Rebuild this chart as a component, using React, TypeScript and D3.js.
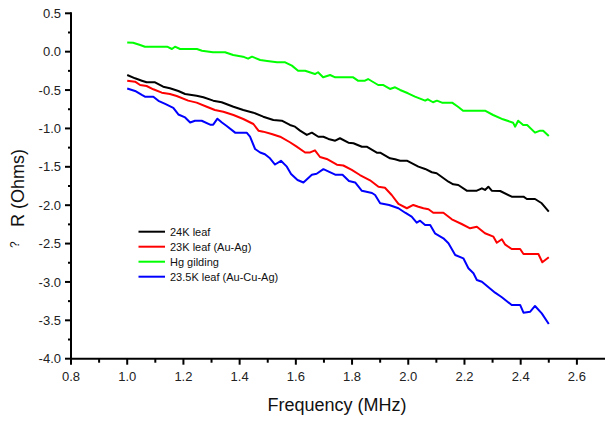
import React from "react";
import * as d3 from "d3";

// ---- data (frequency in MHz, ΔR in Ohms) ----
const leaf24Freq = [1.0,1.028,1.052,1.069,1.099,1.128,1.152,1.182,1.206,1.247,1.271,1.306,1.336,1.378,1.413,1.449,1.484,1.52,1.55,1.579,1.597,1.615,1.639,1.657,1.68,1.698,1.716,1.74,1.757,1.787,1.805,1.835,1.852,1.888,1.9,1.935,1.953,1.971,1.995,2.036,2.06,2.084,2.101,2.143,2.16,2.178,2.208,2.244,2.262,2.273,2.285,2.297,2.327,2.368,2.41,2.422,2.451,2.475,2.5];
const leaf24Vals = [-0.304,-0.347,-0.378,-0.399,-0.399,-0.456,-0.477,-0.512,-0.551,-0.573,-0.594,-0.638,-0.659,-0.717,-0.76,-0.795,-0.847,-0.89,-0.899,-0.955,-0.977,-1.029,-1.085,-1.055,-1.108,-1.108,-1.137,-1.16,-1.128,-1.186,-1.193,-1.238,-1.238,-1.316,-1.316,-1.389,-1.402,-1.42,-1.42,-1.498,-1.528,-1.571,-1.584,-1.694,-1.728,-1.737,-1.811,-1.811,-1.78,-1.802,-1.759,-1.811,-1.815,-1.889,-1.889,-1.919,-1.919,-1.975,-2.085];

const leaf23Freq = [1.0,1.028,1.046,1.069,1.093,1.123,1.152,1.176,1.217,1.247,1.283,1.312,1.342,1.378,1.413,1.449,1.467,1.484,1.514,1.544,1.579,1.603,1.633,1.651,1.668,1.686,1.71,1.746,1.769,1.799,1.828,1.864,1.894,1.917,1.941,1.965,1.995,2.018,2.036,2.054,2.072,2.089,2.125,2.155,2.19,2.22,2.244,2.273,2.303,2.315,2.333,2.344,2.368,2.398,2.41,2.463,2.477,2.5];
const leaf23Vals = [-0.378,-0.391,-0.434,-0.447,-0.49,-0.534,-0.551,-0.577,-0.638,-0.664,-0.717,-0.76,-0.782,-0.825,-0.877,-0.942,-1.029,-1.042,-1.072,-1.108,-1.18,-1.238,-1.313,-1.313,-1.285,-1.372,-1.398,-1.472,-1.483,-1.541,-1.607,-1.676,-1.759,-1.773,-1.867,-1.984,-2.04,-1.997,-2.02,-2.04,-2.053,-2.098,-2.098,-2.184,-2.245,-2.301,-2.28,-2.366,-2.41,-2.489,-2.444,-2.51,-2.571,-2.571,-2.636,-2.636,-2.744,-2.679];

const hgFreq = [1.0,1.021,1.046,1.063,1.142,1.159,1.17,1.188,1.248,1.266,1.305,1.348,1.377,1.412,1.43,1.444,1.473,1.498,1.533,1.562,1.586,1.608,1.633,1.668,1.679,1.697,1.722,1.74,1.804,1.821,1.846,1.857,1.893,1.91,1.935,1.953,1.971,1.999,2.024,2.06,2.07,2.088,2.102,2.12,2.156,2.177,2.195,2.273,2.302,2.337,2.373,2.38,2.391,2.409,2.423,2.451,2.469,2.48,2.5];
const hgVals = [0.12,0.117,0.087,0.065,0.065,0.035,0.065,0.035,0.035,0.013,-0.008,-0.008,-0.043,-0.065,-0.091,-0.065,-0.108,-0.121,-0.138,-0.138,-0.182,-0.248,-0.248,-0.291,-0.268,-0.334,-0.304,-0.334,-0.334,-0.378,-0.378,-0.356,-0.434,-0.434,-0.486,-0.464,-0.499,-0.542,-0.586,-0.638,-0.62,-0.659,-0.638,-0.664,-0.664,-0.717,-0.769,-0.769,-0.825,-0.881,-0.925,-0.977,-0.899,-0.955,-0.955,-1.055,-1.029,-1.029,-1.098];

const leaf235Freq = [1.0,1.028,1.052,1.063,1.093,1.111,1.135,1.164,1.182,1.206,1.224,1.241,1.265,1.295,1.306,1.321,1.337,1.354,1.384,1.425,1.437,1.455,1.473,1.49,1.508,1.526,1.547,1.568,1.583,1.606,1.627,1.657,1.674,1.698,1.74,1.766,1.789,1.811,1.835,1.871,1.882,1.9,1.932,1.965,1.989,2.012,2.03,2.042,2.06,2.078,2.095,2.125,2.143,2.167,2.196,2.214,2.232,2.244,2.262,2.309,2.333,2.368,2.398,2.41,2.434,2.451,2.475,2.5];
const leaf235Vals = [-0.479,-0.512,-0.564,-0.586,-0.586,-0.64,-0.681,-0.731,-0.818,-0.857,-0.922,-0.9,-0.9,-0.951,-0.951,-0.873,-0.922,-0.968,-1.055,-1.055,-1.108,-1.268,-1.313,-1.336,-1.389,-1.47,-1.422,-1.498,-1.594,-1.672,-1.704,-1.603,-1.59,-1.531,-1.603,-1.603,-1.685,-1.704,-1.812,-1.841,-1.867,-1.975,-1.997,-2.04,-2.098,-2.15,-2.228,-2.202,-2.258,-2.258,-2.366,-2.431,-2.496,-2.649,-2.692,-2.822,-2.887,-2.975,-2.997,-3.14,-3.2,-3.3,-3.3,-3.401,-3.388,-3.313,-3.409,-3.548];

const seriesNames = ["24K leaf", "23K leaf (Au-Ag)", "Hg gilding", "23.5K leaf (Au-Cu-Ag)"];
const seriesColors = ["#000000", "#ff0000", "#00ff00", "#0000ff"];
const seriesFreqs = [leaf24Freq, leaf23Freq, hgFreq, leaf235Freq];
const seriesVals = [leaf24Vals, leaf23Vals, hgVals, leaf235Vals];

const xTicks = [0.8, 1.0, 1.2, 1.4, 1.6, 1.8, 2.0, 2.2, 2.4, 2.6];
const yTicks = [0.5, 0.0, -0.5, -1.0, -1.5, -2.0, -2.5, -3.0, -3.5, -4.0];
const xLabel = "Frequency (MHz)";
const yLabel = "R (Ohms)";

const W = 605;
const H = 422;
const FONT = "Arial, 'Liberation Sans', Helvetica, sans-serif";

export default function App() {
  const x = d3.scaleLinear().domain([0.8, 2.7]).range([71, 605]);
  const y = d3.scaleLinear().domain([-4.0, 0.5]).range([358.7, 13.3]);

  const line = d3
    .line<[number, number]>()
    .x((d) => x(d[0]))
    .y((d) => y(d[1]));

  const xMinor = d3.range(0.9, 2.7, 0.2);
  const yMinor = d3.range(-3.75, 0.5, 0.5);

  const x0 = x(0.8);
  const yBase = y(-4.0);

  return (
    <svg
      width={W}
      height={H}
      style={{ position: "absolute", left: 0, top: 0, background: "#fff" }}
      fontFamily={FONT}
    >
      <rect x={0} y={0} width={W} height={H} fill="#fff" />
      {/* data lines */}
      {seriesFreqs.map((fs, i) => (
        <path
          key={i}
          d={line(fs.map((f, j) => [f, seriesVals[i][j]] as [number, number])) || ""}
          fill="none"
          stroke={seriesColors[i]}
          strokeWidth={2}
          strokeLinejoin="round"
        />
      ))}

      {/* y axis */}
      <line x1={x0} x2={x0} y1={y(0.5) - 1} y2={yBase + 1} stroke="#000" strokeWidth={2} />
      {yTicks.map((t) => (
        <g key={"yt" + t}>
          <line x1={x0 - 6} x2={x0} y1={y(t)} y2={y(t)} stroke="#000" strokeWidth={2} />
          <text x={x0 - 10} y={y(t)} dy="0.36em" textAnchor="end" fontSize={13} fill="#222">
            {t.toFixed(1)}
          </text>
        </g>
      ))}
      {yMinor.map((t) => (
        <line key={"ym" + t} x1={x0 - 3} x2={x0} y1={y(t)} y2={y(t)} stroke="#000" strokeWidth={2} />
      ))}

      {/* x axis */}
      <line x1={x0 - 1} x2={W} y1={yBase} y2={yBase} stroke="#000" strokeWidth={2} />
      {xTicks.map((t) => (
        <g key={"xt" + t}>
          <line x1={x(t)} x2={x(t)} y1={yBase} y2={yBase + 6} stroke="#000" strokeWidth={2} />
          <text x={x(t)} y={yBase + 22} textAnchor="middle" fontSize={13} fill="#222">
            {t.toFixed(1)}
          </text>
        </g>
      ))}
      {xMinor.map((t) => (
        <line key={"xm" + t} x1={x(t)} x2={x(t)} y1={yBase} y2={yBase + 4} stroke="#000" strokeWidth={2} />
      ))}

      {/* axis titles */}
      <text x={337} y={411} textAnchor="middle" fontSize={18} fill="#111">
        {xLabel}
      </text>
      <g transform="translate(24,248) rotate(-90)">
        <text x={0} y={-5} fontSize={12} fill="#111">?</text>
        <text x={21} y={0} fontSize={18} fill="#111">{yLabel}</text>
      </g>

      {/* legend */}
      {seriesNames.map((name, i) => {
        const ly = 231.7 + i * 15;
        return (
          <g key={"lg" + i}>
            <line x1={138.5} x2={165} y1={ly} y2={ly} stroke={seriesColors[i]} strokeWidth={2} />
            <text x={170} y={ly} dy="0.36em" fontSize={11} fill="#111">
              {name}
            </text>
          </g>
        );
      })}
    </svg>
  );
}
